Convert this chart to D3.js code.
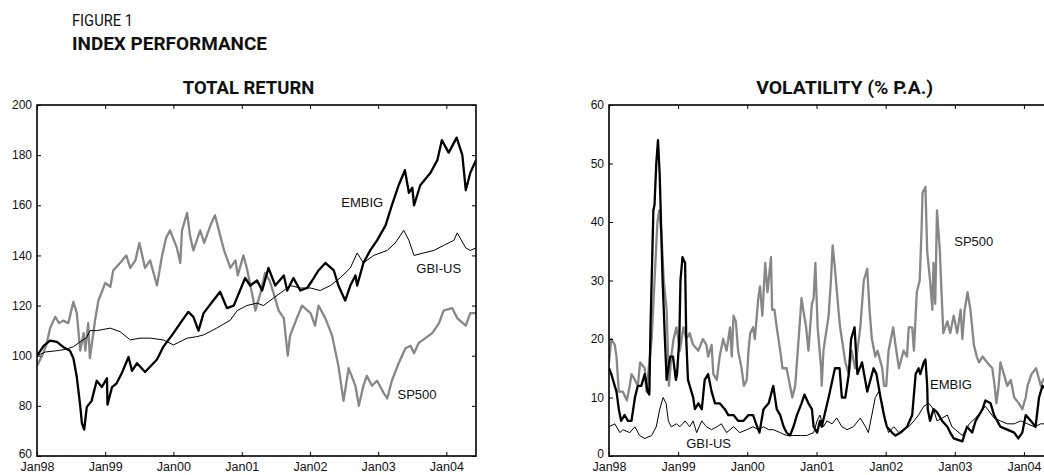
<!DOCTYPE html>
<html>
<head>
<meta charset="utf-8">
<script src="https://cdn.jsdelivr.net/npm/d3@7"></script>
<style>
  body { margin: 0; background: #fff; }
  svg { display: block; }
  .axis text { font-family: "Liberation Sans", Arial, sans-serif; fill: #111; }
  .title { font-family: Roboto, "Open Sans", sans-serif; fill: #111; }
</style>
</head>
<body>
<div id="chart"></div>
<script>
// data: [months since Jan98, value]
let spReturn = [[0,96],[0.9,100],[1.6,104],[2.3,111],[3.2,115.5],[3.9,113],[4.6,114],[5.5,113],[6.4,121.5],[7.0,117],[7.6,102],[8.2,109],[8.5,102],[9.0,113],[9.3,99],[10.2,114],[10.8,122],[12.0,129],[12.9,127.5],[13.4,134],[14.6,137],[15.7,140],[16.4,135],[17.3,138],[18.0,145],[19.0,135],[19.9,138],[21.1,128],[22.0,140],[22.7,147],[23.4,150],[24.6,143],[25.2,137],[25.5,150],[26.4,157],[26.9,148],[27.5,142],[28.7,150],[29.4,145],[30.5,152],[31.3,156],[32.2,148],[32.9,142],[34.0,135],[34.9,138],[35.3,132],[36.3,140],[36.9,135],[37.8,125],[38.4,118],[39.3,125],[40.1,133],[40.9,130],[41.6,125],[42.5,118],[43.4,115],[44.1,100],[44.5,108],[45.7,115],[46.6,120],[48.1,117],[48.9,112],[49.5,120],[50.7,115],[51.9,108],[53.0,96],[53.9,82],[54.8,95],[56.0,88],[56.6,80],[57.4,88],[58.0,92],[58.9,88],[59.8,90],[61.0,85],[61.6,83],[62.4,90],[63.6,97],[64.8,103],[65.7,104],[66.3,101],[67.1,105],[68.3,107],[69.5,109],[70.7,113],[71.5,118],[73.0,119],[73.9,115],[75.4,112],[76.2,117],[77.2,117]];

let embigReturn = [[0,100],[1.2,104],[2.3,106],[3.5,105.5],[4.6,103.5],[5.8,102],[6.4,99],[7.0,91.5],[7.6,80],[7.9,73],[8.3,70.5],[8.75,79.5],[9.6,82],[10.5,90],[11.4,87.5],[12.3,91],[12.4,80.5],[13.2,87.5],[14.0,89],[14.9,93],[16.1,99.5],[16.7,94],[17.6,97],[19.0,93.5],[21.1,98.5],[22.2,103.5],[24.0,109],[25.2,113],[26.6,117.5],[27.5,115.5],[28.4,110],[29.3,117],[31.0,122],[32.2,125.5],[33.4,119],[34.6,120],[35.7,126],[36.6,131],[37.5,128],[38.7,130],[39.6,126],[40.7,135],[41.9,128],[43.4,132],[44.0,126],[45.1,131],[46.3,126],[47.5,127],[48.4,130],[49.5,134],[50.7,137],[52.2,134],[53.0,128],[54.2,122],[55.1,128],[56.0,132],[56.3,128],[57.4,137],[58.6,142],[59.8,146],[61.3,152],[62.4,160],[63.6,168],[64.7,174],[65.4,165],[66.0,167],[66.3,160],[67.4,168],[69.2,173],[70.4,178],[71.2,186],[72.4,181],[73.8,187],[74.8,180],[75.4,166],[76.2,173],[77.2,178]];

let gbiReturn = [[0,100],[1.5,101.5],[3.5,102],[5.0,102.5],[6.4,103.6],[7.6,105.6],[8.75,107.3],[9.3,110],[10.5,110],[12.9,111],[14.6,109.6],[16.4,106.3],[18.1,107],[19.9,107],[22.2,106.3],[24.0,104.3],[26.4,107],[28.1,107.6],[29.3,108.3],[31.6,111],[34.0,114.2],[35.2,118],[36.9,120],[38.7,121],[39.8,120],[41.6,123],[43.4,126],[44.5,128],[46.3,127],[48.1,127],[49.8,126],[51.6,128],[53.3,131],[55.1,135],[56.3,141],[57.4,137],[59.2,140],[61.6,142],[63.0,145],[64.5,150],[65.4,146],[66.3,140],[68.0,141],[69.8,142],[71.5,144],[73.3,146],[73.9,149],[75.4,143],[76.2,142],[77.2,143]];

let spVol = [[0,16],[0.4,20],[1.0,19],[1.3,17],[1.7,11],[2.4,11],[3.1,9.5],[3.6,12],[3.9,14],[4.5,13],[5.0,12],[5.4,16],[6.2,15],[6.5,11],[7.4,20],[7.9,30],[8.4,40],[8.7,42],[9.1,38],[9.5,30],[10.0,25],[10.3,15],[10.4,12],[10.8,17],[11.2,20],[11.7,22],[12.3,18],[12.9,22],[13.4,20],[14.0,21],[14.6,19],[15.5,18],[16.3,20],[16.9,19],[17.2,17],[17.8,19],[18.1,14],[18.7,13],[19.2,17],[19.8,20],[20.4,18],[21.0,22],[21.3,17],[21.6,24],[22.0,23],[22.4,18],[23.0,15],[23.4,12],[23.9,13],[24.2,18],[24.5,21],[25.0,22],[25.3,20],[25.9,27],[26.2,29],[26.6,24],[27.1,33],[27.5,28],[28.1,34],[28.3,25],[28.7,25],[29.1,22],[29.7,18],[30.1,15],[30.8,15],[31.4,12],[31.8,10],[32.3,12],[32.9,20],[33.4,27],[33.7,25],[34.2,22],[34.6,18],[35.2,26],[35.5,27],[35.8,33],[36.2,22],[36.8,15],[36.9,12],[37.2,18],[38.1,24],[38.5,30],[38.8,36],[39.2,32],[39.8,25],[40.1,22],[40.4,20],[41.0,16],[41.6,14],[42.1,18],[42.7,15],[43.6,22],[44.2,30],[44.8,32],[45.2,25],[45.6,20],[46.2,17],[46.6,18],[47.4,15],[47.7,12],[48.1,12],[48.5,18],[49.3,22],[49.7,19],[50.3,15],[51.1,18],[51.7,17],[52.0,22],[52.6,22],[52.9,18],[53.4,28],[53.9,30],[54.2,38],[54.4,45],[54.9,46],[55.2,35],[55.7,30],[56.1,25],[56.3,33],[56.6,26],[56.9,42],[57.4,35],[57.6,30],[58.0,21],[58.7,23],[59.2,21],[59.8,24],[60.4,21],[61.0,25],[61.3,20],[61.7,25],[62.2,28],[62.7,25],[63.3,19],[63.8,17],[64.2,16],[64.8,17],[65.6,16],[66.5,15],[66.9,12],[67.2,9],[67.6,12],[67.9,16],[68.5,14],[69.1,12],[69.7,13],[70.3,10],[71.1,9],[71.7,8],[72.3,10],[72.6,12],[73.3,14],[74.1,15],[74.9,12],[75.3,13],[76.4,14],[77.2,13]];

let embigVol = [[0,15],[0.4,14],[1.0,12],[1.3,11],[1.7,8],[2.1,6],[2.7,7],[3.3,6],[3.9,6],[4.5,10],[5.0,12],[5.6,12],[6.2,14],[6.7,11],[7.0,10.5],[7.2,22],[7.7,42],[7.9,43],[8.2,50],[8.5,54],[8.8,48],[9.3,30],[9.7,20],[10.0,13],[10.6,17],[11.1,17],[11.6,13],[11.8,14],[12.2,20],[12.4,30],[12.75,34],[13.2,33],[13.4,20],[13.7,13],[14.3,11],[14.6,10],[14.9,8],[15.5,9],[16.1,8],[16.6,13],[17.2,14],[17.8,11],[18.4,9],[19.2,9],[20.1,8],[20.7,7],[21.6,7],[22.4,6],[23.3,6],[24.2,7],[25.0,7],[25.7,5],[26.1,4],[26.8,8],[27.7,9],[28.5,12],[29.1,8],[29.7,7],[30.3,5],[30.8,4],[31.4,3.5],[32.0,5],[32.6,7],[33.4,9],[33.9,10.5],[34.6,9],[35.2,8],[35.5,5],[36.1,4],[36.6,6],[36.9,5],[38.1,10],[39.2,15],[40.0,15],[40.4,10],[41.0,10],[41.6,14],[42.0,20],[42.6,22],[42.9,17],[43.1,14],[43.9,16],[44.8,11],[45.9,15],[46.4,14],[47.1,10],[47.7,7],[48.2,5],[49.1,4],[49.7,3.5],[50.6,4],[51.7,5],[52.6,7],[53.2,14],[53.7,15],[54.0,14],[54.6,16],[54.9,16.5],[55.2,12],[55.3,8],[55.7,6],[56.3,8],[56.9,7.5],[57.8,6],[58.7,5],[59.2,4],[59.8,3],[61.3,2.5],[62.1,5],[63.0,4],[63.6,6],[64.8,8],[65.3,9.5],[66.2,9],[66.8,7],[67.9,5],[69.1,4.5],[70.3,4],[71.0,3],[71.7,4],[72.3,7],[73.2,6],[74.0,5],[74.6,10],[75.2,12],[76.2,11],[77.2,10]];

let gbiVol = [[0,5],[1.0,5.5],[1.9,4],[2.4,4.5],[3.6,4],[4.5,5],[5.3,3.5],[6.2,3],[7.4,3.5],[8.2,5],[8.8,8],[9.4,10],[9.9,9],[10.3,6],[10.8,5],[11.7,5.5],[12.3,5],[13.2,6],[14.0,5],[14.6,6],[15.2,4],[16.1,6],[16.9,5],[17.8,4.5],[18.7,5],[19.5,5.5],[20.4,4],[21.6,5],[22.7,4],[23.9,4.5],[25.0,5],[25.9,4.5],[26.8,5],[27.7,4.5],[28.5,4.5],[29.7,4],[30.8,3.5],[32.0,3.5],[33.2,3.5],[34.3,3.5],[35.5,4],[36.1,6],[36.6,7],[37.2,5],[37.8,6],[38.7,5.5],[39.5,6.5],[40.4,5],[41.3,4.5],[42.4,5],[43.6,6.5],[44.5,5],[45.0,4],[45.6,7],[46.2,10],[46.8,11],[47.4,9],[47.9,6],[48.5,4],[49.4,5],[50.3,4],[51.1,4.5],[52.0,5],[52.9,6],[53.7,7],[54.6,8.5],[55.5,9],[56.3,8],[56.9,6],[57.8,6.5],[58.7,7],[59.5,5],[60.1,4.5],[61.3,3.5],[62.5,5.5],[63.6,6.5],[64.5,7.5],[65.3,8.5],[66.8,6.5],[67.9,6],[69.1,5.5],[70.3,5.5],[71.4,6],[72.6,5.5],[73.8,5],[74.9,5.5],[76.0,5.5],[77.2,5]];

let yearTicks = ["1998-01-01","1999-01-01","2000-01-01","2001-01-01","2002-01-01","2003-01-01","2004-01-01"];
let returnTicks = [60, 80, 100, 120, 140, 160, 180, 200];
let volTicks = [0, 10, 20, 30, 40, 50, 60];
let lastMonth = 77.2;

// label anchors [text, month, value]
let returnLabels = [["EMBIG", 53.5, 159.3], ["GBI-US", 66.7, 133], ["SP500", 63.4, 82.7]];
let volLabels = [["SP500", 59.9, 35.9], ["EMBIG", 55.7, 11.4], ["GBI-US", 13.4, 1.3]];

let width = 1044, height = 475;
let plotTop = 105, plotBottom = 456;

let svg = d3.select("#chart").append("svg")
    .attr("width", width)
    .attr("height", height);

function monthToDate(m) {
    return new Date(new Date(1998, 0, 1).getTime() + m * 30.4375 * 864e5);
}

// page titles
svg.append("text").attr("class", "title")
    .attr("x", 72).attr("y", 26)
    .attr("font-size", 17).attr("textLength", 61).attr("lengthAdjust", "spacingAndGlyphs")
    .text("FIGURE 1");
svg.append("text").attr("class", "title")
    .attr("x", 72).attr("y", 49.5)
    .attr("font-size", 18.5).attr("font-weight", "bold")
    .attr("textLength", 195).attr("lengthAdjust", "spacingAndGlyphs")
    .text("INDEX PERFORMANCE");

function drawPanel(p) {
    let x = d3.scaleTime()
        .domain([monthToDate(0), monthToDate(lastMonth)])
        .range([p.left, p.right]);
    let y = d3.scaleLinear()
        .domain(p.yDomain)
        .range([plotBottom, plotTop]);
    let years = yearTicks.map(d => new Date(d + "T00:00:00"));

    let g = svg.append("g");

    // title
    g.append("text").attr("class", "title")
        .attr("x", p.titleX).attr("y", 94)
        .attr("text-anchor", "middle")
        .attr("font-size", 18.5).attr("font-weight", "bold")
        .attr("textLength", p.titleW).attr("lengthAdjust", "spacingAndGlyphs")
        .text(p.title);

    let clipId = "clip" + p.left;
    g.append("clipPath").attr("id", clipId)
        .append("rect")
        .attr("x", p.left).attr("y", plotTop)
        .attr("width", p.right - p.left).attr("height", plotBottom - plotTop);

    let line = d3.line()
        .x(d => x(monthToDate(d[0])))
        .y(d => y(d[1]));

    p.series.forEach(function (s) {
        g.append("path")
            .datum(s.data)
            .attr("clip-path", "url(#" + clipId + ")")
            .attr("d", line)
            .style("fill", "none")
            .style("stroke", s.color)
            .style("stroke-width", s.w)
            .style("stroke-linejoin", "round");
    });

    // series labels
    g.selectAll(".lbl")
        .data(p.labels)
        .enter().append("text")
        .attr("class", "lbl")
        .attr("x", d => x(monthToDate(d[1])))
        .attr("y", d => y(d[2]))
        .style("font-family", "'Liberation Sans', Arial, sans-serif")
        .style("font-size", "13px")
        .style("fill", "#111")
        .text(d => d[0]);

    // axes, ticks pointing inward
    let xAxis = g.append("g").attr("class", "axis")
        .attr("transform", "translate(0," + plotBottom + ")")
        .call(d3.axisBottom(x).tickValues(years).tickSize(-4).tickPadding(6.5)
            .tickFormat(d3.timeFormat("%b%y")));
    xAxis.selectAll("text").style("font-size", "12.5px");

    let yAxis = g.append("g").attr("class", "axis")
        .attr("transform", "translate(" + p.left + ",0)")
        .call(d3.axisLeft(y).tickValues(p.yTicks).tickSize(-4).tickPadding(5));
    // lowest label sits a little higher so it clears the month labels
    yAxis.selectAll("text").style("font-size", "12px")
        .attr("dy", d => d === p.yDomain[0] ? "0.12em" : "0.3em");

    g.append("g").attr("class", "axis")
        .attr("transform", "translate(0," + plotTop + ")")
        .call(d3.axisTop(x).tickValues(years).tickSize(-4).tickFormat(""));
    g.append("g").attr("class", "axis")
        .attr("transform", "translate(" + p.right + ",0)")
        .call(d3.axisRight(y).tickValues(p.yTicks).tickSize(-4).tickFormat(""));

    g.selectAll(".domain").remove();
    g.selectAll(".tick line").style("stroke", "#000");

    // frame
    g.append("rect")
        .attr("x", p.left).attr("y", plotTop)
        .attr("width", p.right - p.left).attr("height", plotBottom - plotTop)
        .style("fill", "none")
        .style("stroke", "#000")
        .style("stroke-width", 1.6);
}

drawPanel({
    left: 37, right: 476,
    title: "TOTAL RETURN", titleX: 248.5, titleW: 131.5,
    yDomain: [60, 200], yTicks: returnTicks,
    labels: returnLabels,
    series: [
        {data: spReturn, color: "#878787", w: 2.3},
        {data: gbiReturn, color: "#000", w: 1},
        {data: embigReturn, color: "#000", w: 2.3}
    ]
});

drawPanel({
    left: 609, right: 1054,
    title: "VOLATILITY (% P.A.)", titleX: 844.7, titleW: 177,
    yDomain: [0, 60], yTicks: volTicks,
    labels: volLabels,
    series: [
        {data: spVol, color: "#878787", w: 2.3},
        {data: gbiVol, color: "#000", w: 1},
        {data: embigVol, color: "#000", w: 2.3}
    ]
});
</script>
</body>
</html>
